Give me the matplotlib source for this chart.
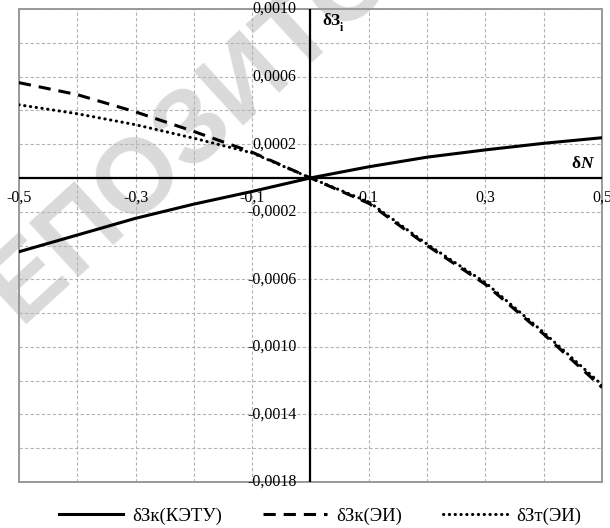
import matplotlib
matplotlib.use("Agg")
import matplotlib.pyplot as plt
from matplotlib.ticker import MultipleLocator

plt.rcParams['font.family'] = ['Liberation Serif', 'DejaVu Serif']

dn = [-0.5, -0.4, -0.3, -0.2, -0.1, 0.0, 0.1, 0.2, 0.3, 0.4, 0.5]
dz_k_ketu = [-0.000437, -0.000338, -0.000239, -0.000155, -0.000080, 0.0,
             0.000066, 0.000123, 0.000166, 0.000205, 0.000238]
dz_k_ei = [0.000564, 0.000493, 0.000391, 0.000275, 0.000152, 0.0,
           -0.000150, -0.000400, -0.000630, -0.000925, -0.001240]
dz_t_ei = [0.000433, 0.000380, 0.000315, 0.000235, 0.000148, 0.0,
           -0.000142, -0.000392, -0.000620, -0.000915, -0.001225]

x_labels = [-0.5, -0.3, -0.1, 0.1, 0.3, 0.5]
y_labels = [0.0010, 0.0006, 0.0002, -0.0002, -0.0006, -0.0010, -0.0014, -0.0018]
names = ['δЗк(КЭТУ)', 'δЗк(ЭИ)', 'δЗт(ЭИ)']

fig = plt.figure(figsize=(6.1, 5.28), dpi=100)
ax = fig.add_axes([0.031, 0.087, 0.956, 0.896])
ax.set_xlim(-0.5, 0.5)
ax.set_ylim(-0.0018, 0.0010)

ax.xaxis.set_major_locator(MultipleLocator(0.1))
ax.yaxis.set_major_locator(MultipleLocator(0.0002))
ax.grid(True, color='#b4b4b4', ls=(0, (3, 2)), lw=0.8, zorder=0)
ax.tick_params(length=0, labelbottom=False, labelleft=False)
for s in ax.spines.values():
    s.set_color('#999999')
    s.set_linewidth(1.4)

# axes through zero
ax.axhline(0, color='black', lw=1.6, zorder=3)
ax.axvline(0, color='black', lw=1.6, zorder=3)

# watermark
ax.text(0.405, 0.850, 'РЕПОЗИТОРИЙ', transform=fig.transFigure, rotation=42.5,
        rotation_mode='anchor', ha='center', va='center', fontsize=76,
        family='Liberation Sans', weight='bold', color='#d6d6d6', alpha=0.9,
        zorder=1.5, clip_on=False)

l1, = ax.plot(dn, dz_k_ketu, color='black', lw=2.2, zorder=4)
l2, = ax.plot(dn, dz_k_ei, color='black', lw=2.2, ls=(0, (4, 2.6)), zorder=4)
l3, = ax.plot(dn, dz_t_ei, color='black', lw=2.2, ls=(0, (0.1, 1.8)),
              dash_capstyle='round', zorder=4)

for v in x_labels:
    ax.annotate(f'{v:.1f}'.replace('.', ','), (v, 0), xytext=(0, -14),
                textcoords='offset points', ha='center', va='center', fontsize=11.5,
                zorder=5)
for v in y_labels:
    ax.annotate(f'{v:.4f}'.replace('.', ','), (0, v), xytext=(-10, 0),
                textcoords='offset points', ha='right', va='center', fontsize=11.5,
                zorder=5)

# axis names
ax.text(0.020, 0.00093, 'δЗ', fontsize=12.5, weight='bold', ha='left', va='center')
ax.text(0.050, 0.00089, 'i', fontsize=8.5, weight='bold', ha='left', va='center')
ax.text(0.462, 0.000082, 'δ', fontsize=12.5, weight='bold', ha='right', va='center')
ax.text(0.462, 0.000082, 'N', fontsize=12.5, weight='bold', style='italic',
        ha='left', va='center')

fig.legend([l1, l2, l3], names, loc='center', bbox_to_anchor=(0.525, 0.023),
           ncol=3, frameon=False, fontsize=13.5, handlelength=3.4,
           columnspacing=2.2, handletextpad=0.5)

fig.savefig('out.png', dpi=100)
